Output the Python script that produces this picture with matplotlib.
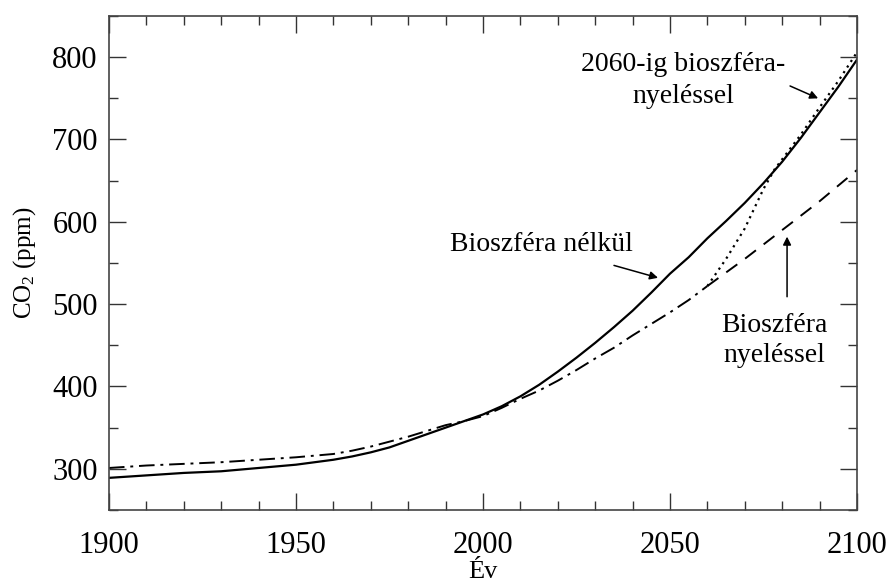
import numpy as np
import matplotlib
matplotlib.use("Agg")
import matplotlib.pyplot as plt
from matplotlib.ticker import MultipleLocator

plt.rcParams.update({
    "font.family": "serif",
    "font.serif": ["Liberation Serif", "Nimbus Roman", "Times New Roman", "DejaVu Serif"],
    "mathtext.fontset": "custom",
    "mathtext.rm": "serif",
    "mathtext.it": "serif:italic",
})

# =========================
# DATA
# =========================
years = [1900, 1910, 1920, 1930, 1940, 1950, 1955, 1960, 1965, 1970, 1975,
         1980, 1985, 1990, 1995, 2000, 2005, 2010, 2015, 2020, 2025, 2030,
         2035, 2040, 2045, 2050, 2055, 2060, 2065, 2070, 2075, 2080, 2085,
         2090, 2095, 2100]
co2_no_bio = [289, 292, 295, 297, 301, 305, 308, 311, 315, 320, 326,
              334, 342, 350, 358, 366, 376, 388, 402, 418, 435, 453,
              472, 492, 514, 537, 557, 580, 601, 623, 647, 673, 702,
              733, 764, 797]

years_bio = [1900, 1910, 1920, 1930, 1940, 1950, 1955, 1960, 1965, 1970,
             1975, 1980, 1985, 1990, 1995, 2000, 2005, 2010, 2015, 2020,
             2025, 2030, 2035, 2040, 2045, 2050, 2055, 2060]
co2_bio = [301, 304, 306, 308, 311, 314, 316, 318, 322, 327,
           333, 339, 346, 353, 358, 364, 374, 385, 395, 407,
           420, 434, 447, 462, 476, 490, 505, 522]

years_bio_cont = [2060, 2070, 2080, 2090, 2100]
co2_bio_cont = [522, 555, 590, 625, 663]

years_2060 = [2060, 2065, 2070, 2075, 2078, 2080, 2085, 2090, 2095, 2100]
co2_2060 = [522, 555, 592, 640, 664, 676, 706, 739, 771, 806]

# =========================
# PLOT
# =========================
fig = plt.figure(figsize=(8.88, 5.88), dpi=100)
ax = fig.add_axes([0.1227, 0.1327, 0.8424, 0.8401])

ax.plot(years, co2_no_bio, color="black", linewidth=1.6)
ax.plot(years_bio, co2_bio, color="black", linewidth=1.4,
        linestyle=(0, (8, 3, 1.5, 3)))
ax.plot(years_bio_cont, co2_bio_cont, color="black", linewidth=1.4,
        linestyle=(0, (7, 5)))
ax.plot(years_2060, co2_2060, color="black", linewidth=1.6,
        linestyle=(0, (1, 2)))

ax.set_xlim(1900, 2100)
ax.set_ylim(250, 850)

ax.xaxis.set_major_locator(MultipleLocator(50))
ax.xaxis.set_minor_locator(MultipleLocator(10))
ax.yaxis.set_major_locator(MultipleLocator(100))
ax.yaxis.set_minor_locator(MultipleLocator(50))
ax.set_yticks([300, 400, 500, 600, 700, 800])

ax.tick_params(which="both", direction="in", top=True, right=True,
               color="#333333", width=1.0)
ax.tick_params(which="major", length=12, labelsize=22)
ax.tick_params(which="minor", length=6.5)
ax.tick_params(axis="x", which="major", pad=15)
ax.tick_params(axis="y", which="major", pad=8)

for s in ax.spines.values():
    s.set_color("#444444")
    s.set_linewidth(1.2)

ax.set_xlabel("Év", fontsize=19, labelpad=1)
ax.set_ylabel("CO$_2$ (ppm)", fontsize=18, labelpad=10)

# Annotations
ax.annotate("Bioszféra nélkül", xy=(2046.8, 532), xytext=(2015.5, 572),
            fontsize=20, ha="center", va="center",
            arrowprops=dict(arrowstyle="-|>", color="black", lw=1.1,
                            shrinkA=14, shrinkB=0, mutation_scale=12))
ax.text(2053.5, 772, "2060-ig bioszféra-\nnyeléssel", fontsize=20,
        ha="center", va="center", linespacing=1.35)
ax.annotate("", xy=(2089.6, 750), xytext=(2082.1, 765),
            arrowprops=dict(arrowstyle="-|>", color="black", lw=1.1,
                            shrinkA=0, shrinkB=0, mutation_scale=12))
ax.text(2078, 456, "Bioszféra\nnyeléssel", fontsize=20, ha="center",
        va="center", linespacing=1.3)
ax.annotate("", xy=(2081.3, 582), xytext=(2081.3, 509),
            arrowprops=dict(arrowstyle="-|>", color="black", lw=1.1,
                            shrinkA=0, shrinkB=0, mutation_scale=12))

fig.savefig("out.png", dpi=100)
